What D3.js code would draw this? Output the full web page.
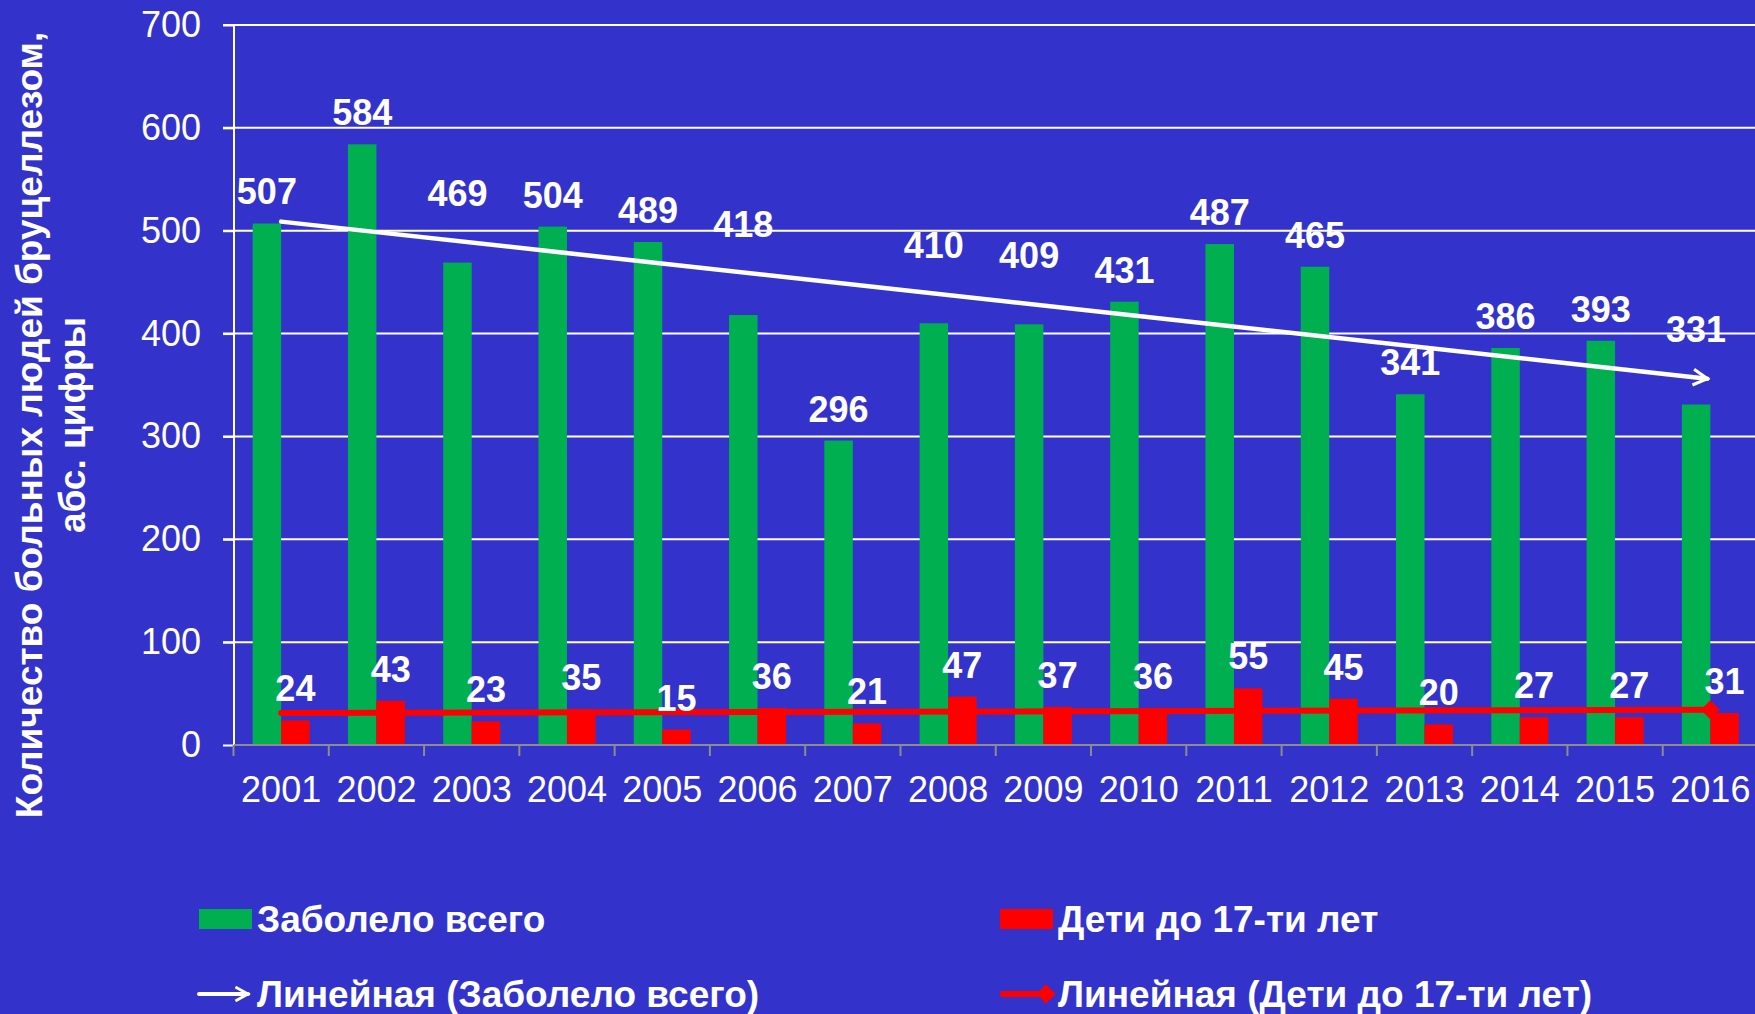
<!DOCTYPE html>
<html>
<head>
<meta charset="utf-8">
<script src="https://cdn.jsdelivr.net/npm/d3@7"></script>
<style>
body{margin:0;background:#3333cc;}
svg{display:block;font-family:"Liberation Sans",Arial,sans-serif;}
</style>
</head>
<body>
<svg id="chart"></svg>
<script>
// data
var years=["2001","2002","2003","2004","2005","2006","2007","2008","2009","2010","2011","2012","2013","2014","2015","2016"];
var totalCases=[507,584,469,504,489,418,296,410,409,431,487,465,341,386,393,331];
var childCases=[24,43,23,35,15,36,21,47,37,36,55,45,20,27,27,31];
var yTicks=[0,100,200,300,400,500,600,700];
var seriesNames=["Заболело всего","Дети до 17-ти лет"];
var trendNames=["Линейная (Заболело всего)","Линейная (Дети до 17-ти лет)"];
var yTitle=["Количество больных людей бруцеллезом,","абс. цифры"];

var width=1755;
var height=1014;
var green="#00b050";
var red="#ff0000";

var svg=d3.select("#chart")
.attr("width",width)
.attr("height",height);

var x=d3.scaleBand()
.domain(years)
.range([233.5,1758])
.padding(0);

var x1=d3.scaleBand()
.domain(["total","child"])
.range([0,x.bandwidth()])
.paddingInner(0)
.paddingOuter(0.672);

var y=d3.scaleLinear()
.domain([0,700])
.range([745,25]);

// simple least squares, Excel style (x = 1..n)
var linFit=function(vals)
{
var n=vals.length;
var mx=(n+1)/2;
var my=d3.mean(vals);
var sxy=0,sxx=0;
vals.forEach(function(v,i){
  sxy+=(i+1-mx)*(v-my);
  sxx+=(i+1-mx)*(i+1-mx);
});
var b=sxy/sxx;
return function(i){return my+b*(i+1-mx);};
}
var trendTotal=linFit(totalCases);
var trendChild=linFit(childCases);

// grid
svg.selectAll("line.grid")
.data(yTicks.filter(function(d){return d>0;}))
.enter()
.append("line")
.attr("class","grid")
.attr("x1",223)
.attr("x2",width)
.attr("y1",function(d){return y(d);})
.attr("y2",function(d){return y(d);})
.attr("stroke","white")
.attr("stroke-width",2);

// y axis
var yAxis=svg.append("g")
.attr("transform","translate(234,0)")
.call(d3.axisLeft(y).tickValues(yTicks).tickSize(11).tickPadding(22));
yAxis.select(".domain").remove();
yAxis.selectAll("line").attr("stroke","white").attr("stroke-width",2);
yAxis.selectAll("text")
.attr("fill","white")
.style("font-size","36px")
.style("font-family","'Liberation Sans',Arial,sans-serif");

svg.append("line")
.attr("x1",234).attr("x2",234)
.attr("y1",y(700)).attr("y2",y(0))
.attr("stroke","white")
.attr("stroke-width",2);

// bars
var groups=svg.selectAll("g.year")
.data(years)
.enter()
.append("g")
.attr("class","year")
.attr("transform",function(d){return "translate("+x(d)+",0)";});

groups.append("rect")
.attr("x",x1("total"))
.attr("width",x1.bandwidth())
.attr("y",function(d,i){return y(totalCases[i]);})
.attr("height",function(d,i){return y(0)-y(totalCases[i]);})
.attr("fill",green);

groups.append("rect")
.attr("x",x1("child"))
.attr("width",x1.bandwidth())
.attr("y",function(d,i){return y(childCases[i]);})
.attr("height",function(d,i){return y(0)-y(childCases[i]);})
.attr("fill",red);

// category axis
var xAxis=svg.append("g")
.attr("transform","translate(0,"+y(0)+")")
.call(d3.axisBottom(x).tickSize(0).tickPadding(31));
xAxis.select(".domain").remove();
xAxis.selectAll("text")
.attr("fill","white")
.style("font-size","36px")
.style("font-family","'Liberation Sans',Arial,sans-serif");

svg.append("line")
.attr("x1",234).attr("x2",width)
.attr("y1",y(0)).attr("y2",y(0))
.attr("stroke","#8c8c8c")
.attr("stroke-width",2);

svg.selectAll("line.xtick")
.data(years.map(function(d){return x(d);}).concat([x.range()[1]]))
.enter()
.append("line")
.attr("class","xtick")
.attr("x1",function(d){return d;})
.attr("x2",function(d){return d;})
.attr("y1",y(0))
.attr("y2",y(0)+11)
.attr("stroke","#8c8c8c")
.attr("stroke-width",2);

// markers
var defs=svg.append("defs");
defs.append("marker")
.attr("id","arrowW")
.attr("viewBox","0 0 12 12")
.attr("refX",10).attr("refY",6)
.attr("markerWidth",4.2).attr("markerHeight",4.2)
.attr("markerUnits","strokeWidth")
.attr("orient","auto")
.append("path")
.attr("d","M1,1 L10,6 L1,11")
.attr("fill","none")
.attr("stroke","white")
.attr("stroke-width",2);
defs.append("marker")
.attr("id","diamondR")
.attr("viewBox","0 0 10 10")
.attr("refX",5).attr("refY",5)
.attr("markerWidth",3.2).attr("markerHeight",3.2)
.attr("markerUnits","strokeWidth")
.attr("orient","auto")
.append("path")
.attr("d","M0,5 L5,0 L10,5 L5,10 Z")
.attr("fill",red);

var cx=function(i){return x(years[i])+x.bandwidth()/2;};
var last=years.length-1;

// trend lines
svg.append("line")
.attr("x1",cx(0)).attr("y1",y(trendChild(0)))
.attr("x2",cx(last)).attr("y2",y(trendChild(last)))
.attr("stroke",red)
.attr("stroke-width",6)
.attr("stroke-linecap","round")
.attr("marker-end","url(#diamondR)");

svg.append("line")
.attr("x1",cx(0)).attr("y1",y(trendTotal(0)))
.attr("x2",cx(last)-3).attr("y2",y(trendTotal(last)))
.attr("stroke","white")
.attr("stroke-width",4.5)
.attr("stroke-linecap","round")
.attr("marker-end","url(#arrowW)");

// data labels, lifted above the trend line when they would sit on it
var labelY=function(v,i)
{
var c=y(v)-32;
var t=y(trendTotal(i));
if (c-t>-20 && c-t<10){c=t-50;}
return c;
}

svg.selectAll("text.lblT")
.data(totalCases)
.enter()
.append("text")
.attr("class","lblT")
.text(function(d){return d;})
.attr("x",function(d,i){return x(years[i])+x1("total")+x1.bandwidth()/2;})
.attr("y",function(d,i){return labelY(d,i);})
.attr("dy","0.36em")
.attr("text-anchor","middle")
.attr("fill","white")
.style("font-size","36px")
.style("font-weight","bold");

svg.selectAll("text.lblC")
.data(childCases)
.enter()
.append("text")
.attr("class","lblC")
.text(function(d){return d;})
.attr("x",function(d,i){return x(years[i])+x1("child")+x1.bandwidth()/2;})
.attr("y",function(d){return y(d)-32;})
.attr("dy","0.36em")
.attr("text-anchor","middle")
.attr("fill","white")
.style("font-size","36px")
.style("font-weight","bold");

// y title
var yt=svg.append("text")
.attr("transform","translate(29,425) rotate(-90)")
.attr("text-anchor","middle")
.attr("fill","white")
.style("font-size","37px")
.style("font-weight","bold");
yt.selectAll("tspan")
.data(yTitle)
.enter()
.append("tspan")
.attr("x",0)
.attr("y",function(d,i){return i*43;})
.attr("dy","0.36em")
.text(function(d){return d;});

// legend
var legendX=[199,1000];
var legend=svg.append("g");
var rowY=[919,994];

legend.selectAll("rect")
.data(seriesNames)
.enter()
.append("rect")
.attr("x",function(d,i){return legendX[i];})
.attr("y",rowY[0]-10)
.attr("width",53)
.attr("height",20)
.attr("fill",function(d,i){return i==0?green:red;});

legend.append("line")
.attr("x1",legendX[0]).attr("x2",legendX[0]+49)
.attr("y1",rowY[1]).attr("y2",rowY[1])
.attr("stroke","white")
.attr("stroke-width",4)
.attr("stroke-linecap","round")
.attr("marker-end","url(#arrowW)");

legend.append("line")
.attr("x1",legendX[1]+3).attr("x2",legendX[1]+46)
.attr("y1",rowY[1]).attr("y2",rowY[1])
.attr("stroke",red)
.attr("stroke-width",6)
.attr("stroke-linecap","round")
.attr("marker-end","url(#diamondR)");

legend.selectAll("text.s")
.data(seriesNames.concat(trendNames))
.enter()
.append("text")
.attr("class","s")
.text(function(d){return d;})
.attr("x",function(d,i){return legendX[i%2]+58;})
.attr("y",function(d,i){return rowY[Math.floor(i/2)];})
.attr("dy","0.36em")
.attr("fill","white")
.style("font-size","37px")
.style("font-weight","bold");
</script>
</body>
</html>
